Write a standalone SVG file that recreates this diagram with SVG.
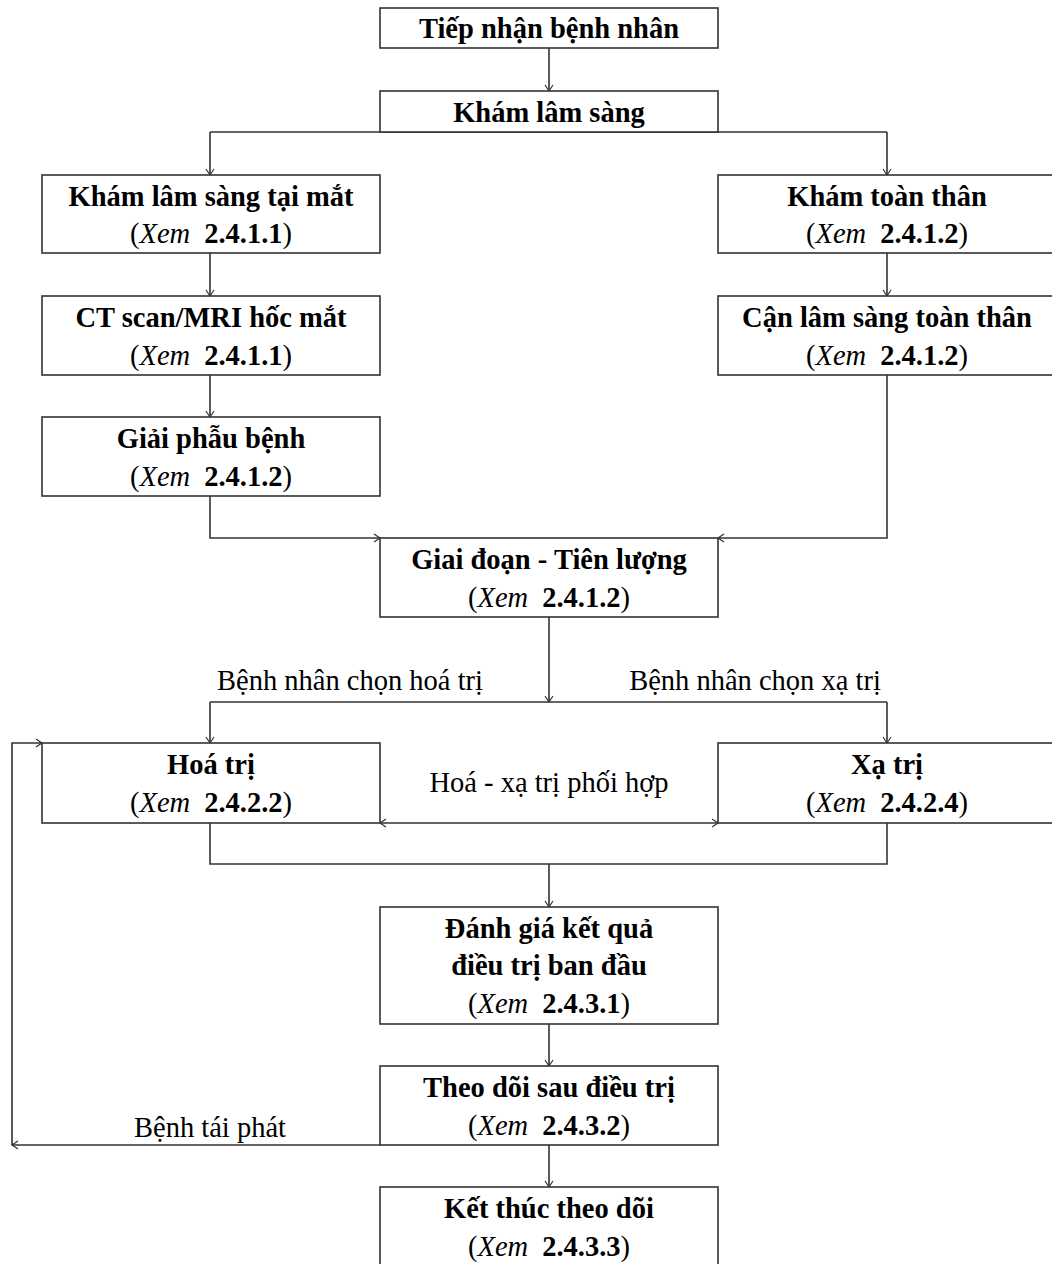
<svg xmlns="http://www.w3.org/2000/svg" width="1052" height="1264" viewBox="0 0 1052 1264">
<defs>
<style>
.box{fill:#fff;stroke:#333;stroke-width:1.6}
.t{font-family:"Liberation Serif","Times New Roman",serif;font-size:28.5px;fill:#000;text-anchor:middle}
.b{font-weight:bold}
.i{font-style:italic}
.c{fill:none;stroke:#333;stroke-width:1.6}
</style>
<marker id="a" markerWidth="10" markerHeight="10" refX="7" refY="5" orient="auto" markerUnits="userSpaceOnUse">
<path d="M1,1 L7,5 L1,9" fill="none" stroke="#333" stroke-width="1.2"/>
</marker>
</defs>
<rect width="1052" height="1264" fill="#fff"/>
<g id="connectors">
<path class="c" d="M549,48 V91" marker-end="url(#a)"/>
<path class="c" d="M210,132 H887"/>
<path class="c" d="M210,132 V175" marker-end="url(#a)"/>
<path class="c" d="M887,132 V175" marker-end="url(#a)"/>
<path class="c" d="M210,253 V296" marker-end="url(#a)"/>
<path class="c" d="M887,253 V296" marker-end="url(#a)"/>
<path class="c" d="M210,375 V417" marker-end="url(#a)"/>
<path class="c" d="M210,496 V538 H380" marker-end="url(#a)"/>
<path class="c" d="M887,375 V538 H718" marker-end="url(#a)"/>
<path class="c" d="M549,617 V702" marker-end="url(#a)"/>
<path class="c" d="M210,702 H887"/>
<path class="c" d="M210,702 V743" marker-end="url(#a)"/>
<path class="c" d="M887,702 V743" marker-end="url(#a)"/>
<path class="c" d="M549,823 H380" marker-end="url(#a)"/>
<path class="c" d="M549,823 H718" marker-end="url(#a)"/>
<path class="c" d="M210,823 V864 H887 V823"/>
<path class="c" d="M549,864 V907" marker-end="url(#a)"/>
<path class="c" d="M549,1024 V1066" marker-end="url(#a)"/>
<path class="c" d="M380,1145 H12" marker-end="url(#a)"/>
<path class="c" d="M12,1145 V743 H42" marker-end="url(#a)"/>
<path class="c" d="M549,1145 V1187" marker-end="url(#a)"/>
<text class="t" x="350" y="690">Bệnh nhân chọn hoá trị</text>
<text class="t" x="755" y="690">Bệnh nhân chọn xạ trị</text>
<text class="t" x="549" y="792">Hoá - xạ trị phối hợp</text>
<text class="t" x="210" y="1137">Bệnh tái phát</text>
</g>
<g id="n1"><rect class="box" x="380" y="8" width="338" height="40"/><text class="t b" x="549" y="38">Tiếp nhận bệnh nhân</text></g>
<g id="n2"><rect class="box" x="380" y="91" width="338" height="41"/><text class="t b" x="549" y="122">Khám lâm sàng</text></g>
<g id="n3"><rect class="box" x="42" y="175" width="338" height="78"/><text class="t b" x="211" y="206">Khám lâm sàng tại mắt</text><text class="t" x="211" y="243">(<tspan class="i">Xem</tspan><tspan class="b" dx="14">2.4.1.1</tspan>)</text></g>
<g id="n4"><rect class="box" x="718" y="175" width="340" height="78"/><text class="t b" x="887" y="206">Khám toàn thân</text><text class="t" x="887" y="243">(<tspan class="i">Xem</tspan><tspan class="b" dx="14">2.4.1.2</tspan>)</text></g>
<g id="n5"><rect class="box" x="42" y="296" width="338" height="79"/><text class="t b" x="211" y="327">CT scan/MRI hốc mắt</text><text class="t" x="211" y="365">(<tspan class="i">Xem</tspan><tspan class="b" dx="14">2.4.1.1</tspan>)</text></g>
<g id="n6"><rect class="box" x="718" y="296" width="340" height="79"/><text class="t b" x="887" y="327">Cận lâm sàng toàn thân</text><text class="t" x="887" y="365">(<tspan class="i">Xem</tspan><tspan class="b" dx="14">2.4.1.2</tspan>)</text></g>
<g id="n7"><rect class="box" x="42" y="417" width="338" height="79"/><text class="t b" x="211" y="448">Giải phẫu bệnh</text><text class="t" x="211" y="486">(<tspan class="i">Xem</tspan><tspan class="b" dx="14">2.4.1.2</tspan>)</text></g>
<g id="n8"><rect class="box" x="380" y="538" width="338" height="79"/><text class="t b" x="549" y="569">Giai đoạn - Tiên lượng</text><text class="t" x="549" y="607">(<tspan class="i">Xem</tspan><tspan class="b" dx="14">2.4.1.2</tspan>)</text></g>
<g id="n9"><rect class="box" x="42" y="743" width="338" height="80"/><text class="t b" x="211" y="774">Hoá trị</text><text class="t" x="211" y="812">(<tspan class="i">Xem</tspan><tspan class="b" dx="14">2.4.2.2</tspan>)</text></g>
<g id="n10"><rect class="box" x="718" y="743" width="340" height="80"/><text class="t b" x="887" y="774">Xạ trị</text><text class="t" x="887" y="812">(<tspan class="i">Xem</tspan><tspan class="b" dx="14">2.4.2.4</tspan>)</text></g>
<g id="n11"><rect class="box" x="380" y="907" width="338" height="117"/><text class="t b" x="549" y="938">Đánh giá kết quả</text><text class="t b" x="549" y="975">điều trị ban đầu</text><text class="t" x="549" y="1013">(<tspan class="i">Xem</tspan><tspan class="b" dx="14">2.4.3.1</tspan>)</text></g>
<g id="n12"><rect class="box" x="380" y="1066" width="338" height="79"/><text class="t b" x="549" y="1097">Theo dõi sau điều trị</text><text class="t" x="549" y="1135">(<tspan class="i">Xem</tspan><tspan class="b" dx="14">2.4.3.2</tspan>)</text></g>
<g id="n13"><rect class="box" x="380" y="1187" width="338" height="90"/><text class="t b" x="549" y="1218">Kết thúc theo dõi</text><text class="t" x="549" y="1256">(<tspan class="i">Xem</tspan><tspan class="b" dx="14">2.4.3.3</tspan>)</text></g>
</svg>
